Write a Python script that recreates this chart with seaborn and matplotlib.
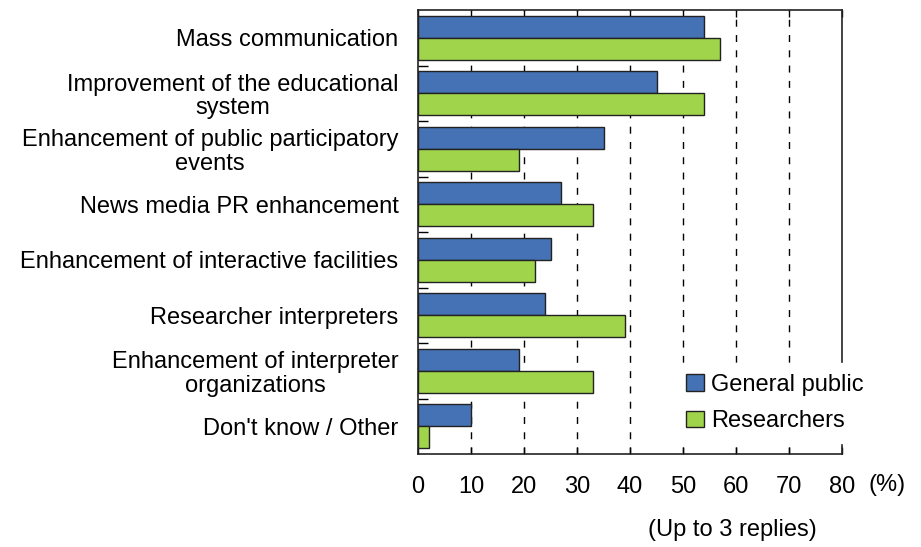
import numpy as np
import pandas as pd
import matplotlib
matplotlib.use("Agg")
import matplotlib.pyplot as plt
import seaborn as sns
from matplotlib.ticker import FixedLocator

items = [
    "Mass communication",
    "Improvement of the educational\nsystem",
    "Enhancement of public participatory\nevents",
    "News media PR enhancement",
    "Enhancement of interactive facilities",
    "Researcher interpreters",
    "Enhancement of interpreter\norganizations",
    "Don't know / Other",
]
general_public = [54, 45, 35, 27, 25, 24, 19, 10]
researchers = [57, 54, 19, 33, 22, 39, 33, 2]
groups = ["General public", "Researchers"]
colors = ["#4572B4", "#A0D44A"]
x_ticks = [0, 10, 20, 30, 40, 50, 60, 70, 80]

df = pd.concat([
    pd.DataFrame({"item": items, "value": general_public, "group": groups[0]}),
    pd.DataFrame({"item": items, "value": researchers, "group": groups[1]}),
])

sns.set_style("white")
plt.rcParams["font.family"] = ["Liberation Sans", "DejaVu Sans"]
plt.rcParams["text.color"] = "black"
plt.rcParams["xtick.color"] = "black"
plt.rcParams["ytick.color"] = "black"

fig = plt.figure(figsize=(9.21, 5.47), dpi=100)
ax = fig.add_axes([418 / 921, 1 - 454 / 547, 424 / 921, 444 / 547])

sns.barplot(data=df, x="value", y="item", hue="group", palette=colors,
            order=items, hue_order=groups, orient="h", saturation=1,
            edgecolor="#222222", linewidth=1, width=0.8, ax=ax, zorder=3)

fs = 17
ax.set_xlim(0, 80)
ax.set_ylim(len(items) - 0.5, -0.5)
ax.set_xticks(x_ticks)
ax.set_xticklabels([str(v) for v in x_ticks], fontsize=fs)
ax.set_xlabel("")
ax.set_ylabel("")
ax.tick_params(axis="x", which="major", direction="in", length=5, width=1,
               color="black", labelcolor="black", pad=16, top=True, bottom=True)
ax.tick_params(axis="y", which="major", length=0, pad=14, labelsize=fs,
               labelcolor="black")
ax.yaxis.set_minor_locator(FixedLocator(np.arange(0.5, len(items) - 1, 1)))
ax.tick_params(axis="y", which="minor", direction="in", length=7, width=1,
               color="black", left=True)
for t in ax.get_yticklabels():
    t.set_multialignment("center")
    t.set_linespacing(1.1)

# dashed vertical gridlines (80 is the frame itself)
for v in x_ticks[1:-1]:
    ax.axvline(v, color="black", linestyle=(0, (5, 6)), linewidth=1, zorder=1)

for s in ax.spines.values():
    s.set_visible(True)
    s.set_color("#222222")
    s.set_linewidth(1.2)

leg = ax.legend(loc="upper left", bbox_to_anchor=(0.607, 0.205),
                fontsize=fs, frameon=True, fancybox=False, framealpha=1,
                edgecolor="white", borderaxespad=0, borderpad=0.45,
                handlelength=0.75, handleheight=0.7, handletextpad=0.3,
                labelspacing=0.62)
leg.set_zorder(6)
for txt in leg.get_texts():
    txt.set_color("black")

fig.text(887 / 921, 1 - 485 / 547, "(%)", fontsize=fs, ha="center", va="center")
fig.text(732 / 921, 1 - 530 / 547, "(Up to 3 replies)", fontsize=fs,
         ha="center", va="center")

fig.savefig("out.png", dpi=100)
